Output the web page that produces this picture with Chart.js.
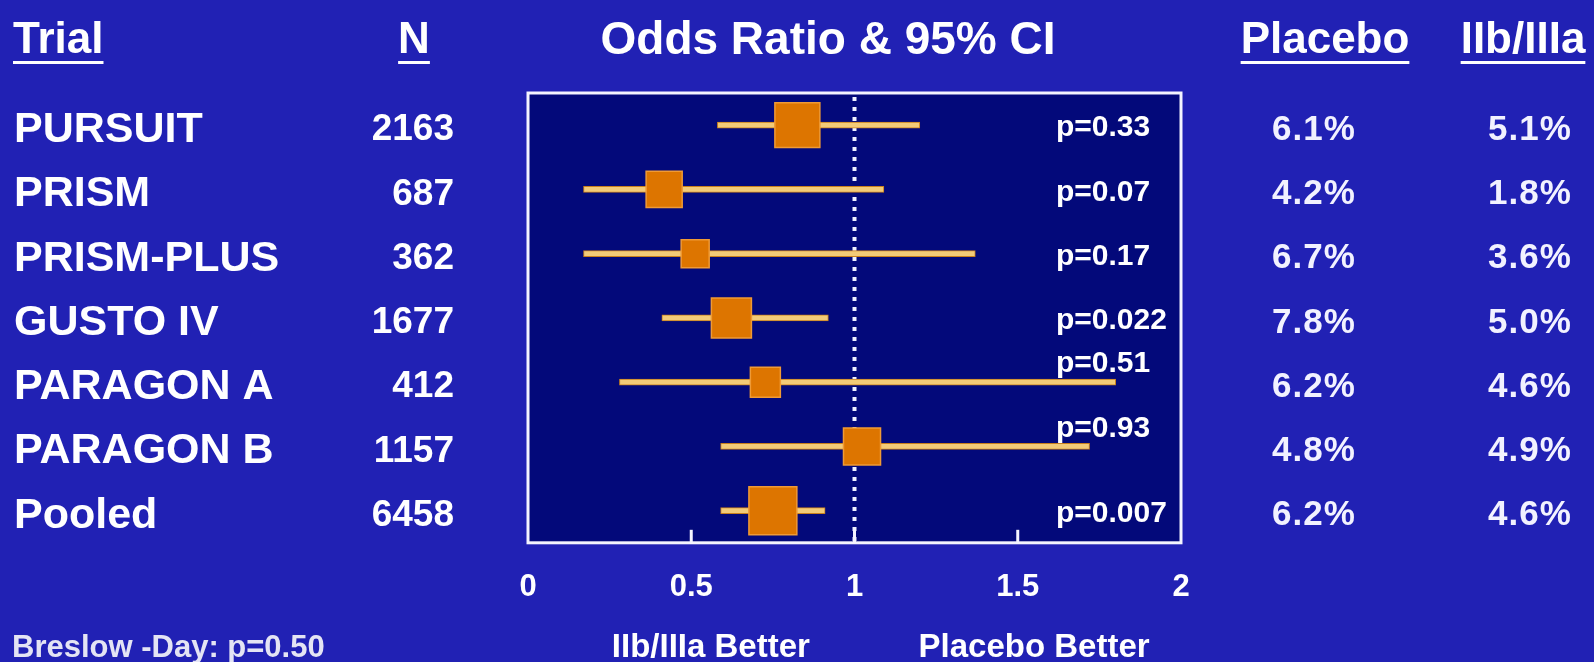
<!DOCTYPE html>
<html>
<head>
<meta charset="utf-8">
<script src="https://cdn.jsdelivr.net/npm/chart.js@4.4.1/dist/chart.umd.min.js"></script>
<style>
  html, body { margin: 0; padding: 0; background: #2121b2; overflow: hidden; }
  #wrap { width: 1594px; height: 662px; }
</style>
</head>
<body>
<div id="wrap"><canvas id="forest" width="1594" height="662"></canvas></div>
<script>
// Trials of GP IIb/IIIa inhibitors vs placebo: odds ratio with 95% CI
const trials = ['PURSUIT', 'PRISM', 'PRISM-PLUS', 'GUSTO IV', 'PARAGON A', 'PARAGON B', 'Pooled'];
const patients = [2163, 687, 362, 1677, 412, 1157, 6458];
const oddsRatio = [0.825, 0.417, 0.512, 0.623, 0.727, 1.023, 0.75];
const ciLower = [0.58, 0.17, 0.17, 0.41, 0.28, 0.59, 0.59];
const ciUpper = [1.20, 1.09, 1.37, 0.92, 1.80, 1.72, 0.91];
const pValues = ['0.33', '0.07', '0.17', '0.022', '0.51', '0.93', '0.007'];
const placeboRate = [6.1, 4.2, 6.7, 7.8, 6.2, 4.8, 6.2];
const inhibitorRate = [5.1, 1.8, 3.6, 5.0, 4.6, 4.9, 4.6];
const oddsTicks = [0, 0.5, 1, 1.5, 2];
const breslowDayP = '0.50';

const FONT = "'Liberation Sans', Arial, Helvetica, sans-serif";
const WHITE = '#ffffff';

function text(ctx, str, x, y, font, align, color, spacing) {
  ctx.font = font;
  ctx.letterSpacing = spacing || '0px';
  ctx.textAlign = align || 'left';
  ctx.textBaseline = 'middle';
  ctx.fillStyle = color || WHITE;
  ctx.fillText(str, x, y);
  ctx.letterSpacing = '0px';
}

function underlined(ctx, str, x, y, font, align) {
  text(ctx, str, x, y, font, align);
  ctx.font = font;
  const w = ctx.measureText(str).width;
  const x0 = align === 'center' ? x - w / 2 : (align === 'right' ? x - w : x);
  ctx.fillStyle = WHITE;
  ctx.fillRect(x0, y + 20, w, 3);
}

const forestDecor = {
  id: 'forestDecor',
  beforeDraw(chart) {
    const { ctx, chartArea: a } = chart;
    ctx.save();
    ctx.fillStyle = '#2121b4';
    ctx.fillRect(0, 0, chart.width, chart.height);
    ctx.fillStyle = '#03097a';
    ctx.fillRect(a.left, a.top, a.right - a.left, a.bottom - a.top);
    ctx.restore();
  },
  beforeDatasetsDraw(chart) {
    // dotted line of no effect (OR = 1)
    const { ctx, chartArea: a, scales: { x } } = chart;
    const px = x.getPixelForValue(1);
    ctx.save();
    ctx.strokeStyle = '#eef0ff';
    ctx.lineWidth = 4;
    ctx.setLineDash([4, 6]);
    ctx.beginPath();
    ctx.moveTo(px, a.top + 4);
    ctx.lineTo(px, a.bottom);
    ctx.stroke();
    ctx.restore();
  },
  afterDraw(chart) {
    const { ctx, chartArea: a, scales: { x, y } } = chart;
    ctx.save();

    // frame and inner tick marks
    ctx.strokeStyle = '#f4f4ff';
    ctx.lineWidth = 3;
    ctx.strokeRect(a.left, a.top, a.right - a.left, a.bottom - a.top);
    ctx.fillStyle = '#f4f4ff';
    oddsTicks.forEach(v => {
      if (v > 0 && v < 2) {
        const px = x.getPixelForValue(v);
        ctx.fillRect(px - 1.5, a.bottom - 13, 3, 13);
      }
    });

    // column headers
    const head = 'bold 44px ' + FONT;
    underlined(ctx, 'Trial', 13, 41, head, 'left');
    underlined(ctx, 'N', 414, 41, head, 'center');
    text(ctx, 'Odds Ratio & 95% CI', 828, 41, 'bold 46px ' + FONT, 'center');
    underlined(ctx, 'Placebo', 1325, 41, head, 'center');
    underlined(ctx, 'IIb/IIIa', 1523, 41, head, 'center');

    // table rows
    trials.forEach((name, i) => {
      const py = y.getPixelForValue(i);
      text(ctx, name, 14, py + 5, 'bold 43px ' + FONT, 'left');
      text(ctx, String(patients[i]), 454, py + 5, 'bold 37px ' + FONT, 'right');
      text(ctx, placeboRate[i].toFixed(1) + '%', 1314, py + 5, 'bold 35px ' + FONT, 'center', '#f2f2ff', '1px');
      text(ctx, inhibitorRate[i].toFixed(1) + '%', 1530, py + 5, 'bold 35px ' + FONT, 'center', '#f2f2ff', '1px');
      // p-value sits above the CI line when the line runs beneath it
      const lift = ciUpper[i] > 1.6 ? -18 : 3;
      text(ctx, 'p=' + pValues[i], 1056, py + lift, 'bold 30px ' + FONT, 'left');
    });

    // footer
    text(ctx, 'IIb/IIIa Better', x.getPixelForValue(0.56), 648, 'bold 33px ' + FONT, 'center');
    text(ctx, 'Placebo Better', x.getPixelForValue(1.55), 648, 'bold 33px ' + FONT, 'center');
    text(ctx, 'Breslow -Day: p=' + breslowDayP, 12, 648, 'bold 31px ' + FONT, 'left', '#e4e4f4');

    ctx.restore();
  }
};

new Chart(document.getElementById('forest'), {
  type: 'bar',
  data: {
    labels: trials,
    datasets: [
      {
        type: 'scatter',
        label: 'Odds ratio',
        data: trials.map((t, i) => ({ x: oddsRatio[i], y: t })),
        pointStyle: 'rect',
        pointRadius: [31.8, 25.5, 19.8, 28.3, 21.2, 26.2, 33.9],
        pointHoverRadius: [31.8, 25.5, 19.8, 28.3, 21.2, 26.2, 33.9],
        backgroundColor: '#dd7500',
        borderColor: '#ef9a35',
        borderWidth: 1.5,
        order: 0
      },
      {
        type: 'bar',
        label: '95% CI',
        data: trials.map((t, i) => [ciLower[i], ciUpper[i]]),
        backgroundColor: '#f3cb78',
        borderColor: '#c9801c',
        borderWidth: 1,
        borderSkipped: false,
        barThickness: 6,
        order: 1
      }
    ]
  },
  options: {
    indexAxis: 'y',
    responsive: false,
    animation: false,
    events: [],
    layout: { padding: { left: 528, right: 413, top: 93, bottom: 30 } },
    plugins: { legend: { display: false }, tooltip: { enabled: false } },
    scales: {
      x: {
        type: 'linear',
        min: 0,
        max: 2,
        afterBuildTicks: scale => { scale.ticks = oddsTicks.map(v => ({ value: v })); },
        ticks: {
          color: WHITE,
          padding: 26,
          font: { family: FONT, size: 31, weight: 'bold' },
          callback: v => String(v),
          maxRotation: 0,
          autoSkip: false
        },
        grid: { display: false, drawTicks: false },
        border: { display: false }
      },
      y: {
        type: 'category',
        display: false,
        offset: true
      }
    }
  },
  plugins: [forestDecor]
});
</script>
</body>
</html>
